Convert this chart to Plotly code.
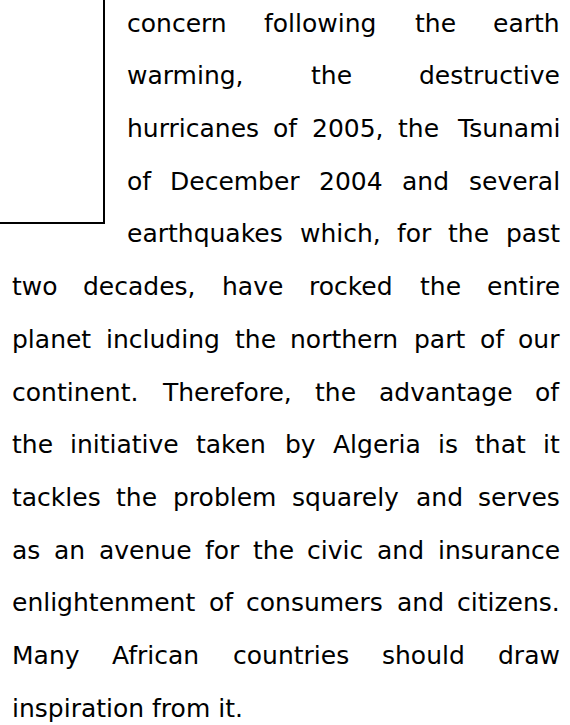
import plotly.graph_objects as go

# Text content
INDENTED_LINES = [
    "concern following the earth",
    "warming, the destructive",
    "hurricanes of 2005, the Tsunami",
    "of December 2004 and several",
    "earthquakes which, for the past",
]
FULL_LINES = [
    "two decades, have rocked the entire",
    "planet including the northern part of our",
    "continent. Therefore, the advantage of",
    "the initiative taken by Algeria is that it",
    "tackles the problem squarely and serves",
    "as an avenue for the civic and insurance",
    "enlightenment of consumers and citizens.",
    "Many African countries should draw",
]
LAST_LINE = "inspiration from it."

W, H = 570, 725
FONT = "DejaVu Sans"
FS = 25
LEFT_FULL = 12.0
LEFT_INDENT = 126.5
RIGHT = 560.0
BASE0 = 31.7
STEP = 52.7
BOX_X = 104
BOX_Y = 223

# DejaVu Sans advance widths (units per 2048 em)
ADV = {
    " ": 651, ",": 651, ".": 651,
    "0": 1303, "1": 1303, "2": 1303, "3": 1303, "4": 1303, "5": 1303,
    "6": 1303, "7": 1303, "8": 1303, "9": 1303,
    "A": 1401, "D": 1577, "M": 1767, "T": 1251,
    "a": 1255, "b": 1300, "c": 1126, "d": 1300, "e": 1260, "f": 721,
    "g": 1300, "h": 1298, "i": 569, "j": 569, "k": 1186, "l": 569,
    "m": 1995, "n": 1298, "o": 1253, "p": 1300, "q": 1300, "r": 842,
    "s": 1067, "t": 803, "u": 1298, "v": 1212, "w": 1675, "x": 1212,
    "y": 1212, "z": 1075,
}


def width(word):
    return sum(ADV.get(ch, 1250) for ch in word) / 2048.0 * FS


annotations = []


def add(text, x, y, anchor):
    annotations.append(dict(
        text=text, x=x, y=y, xref="x", yref="y",
        xanchor=anchor, yanchor="middle", showarrow=False,
        borderpad=0, borderwidth=0,
        font=dict(family=FONT, size=FS, color="#000000"),
    ))


def justify(line, left, right, y):
    words = line.split(" ")
    widths = [width(w) for w in words]
    gap = (right - left - sum(widths)) / (len(words) - 1)
    x = left
    for i, (w, ww) in enumerate(zip(words, widths)):
        if i == len(words) - 1:
            add(w, right, y, "right")
        else:
            add(w, x, y, "left")
        x += ww + gap


MID = 8.6  # baseline to text-box middle
row = 0
for line in INDENTED_LINES:
    justify(line, LEFT_INDENT, RIGHT, BASE0 + STEP * row - MID)
    row += 1
for line in FULL_LINES:
    justify(line, LEFT_FULL, RIGHT, BASE0 + STEP * row - MID)
    row += 1
add(LAST_LINE, LEFT_FULL, BASE0 + STEP * row - MID, "left")

fig = go.Figure()
fig.update_layout(
    width=W, height=H,
    margin=dict(l=0, r=0, t=0, b=0),
    paper_bgcolor="white", plot_bgcolor="white",
    xaxis=dict(range=[0, W], visible=False, fixedrange=True),
    yaxis=dict(range=[H, 0], visible=False, fixedrange=True),
    showlegend=False,
    annotations=annotations,
    shapes=[dict(
        type="path", xref="x", yref="y",
        path=f"M -2,{BOX_Y} L {BOX_X},{BOX_Y} L {BOX_X},-2",
        line=dict(color="black", width=2),
    )],
)
fig.write_html(
    "out.html",
    config={"displayModeBar": False},
    post_script="document.body.style.margin='0';"
                "document.documentElement.style.overflow='hidden';",
)
